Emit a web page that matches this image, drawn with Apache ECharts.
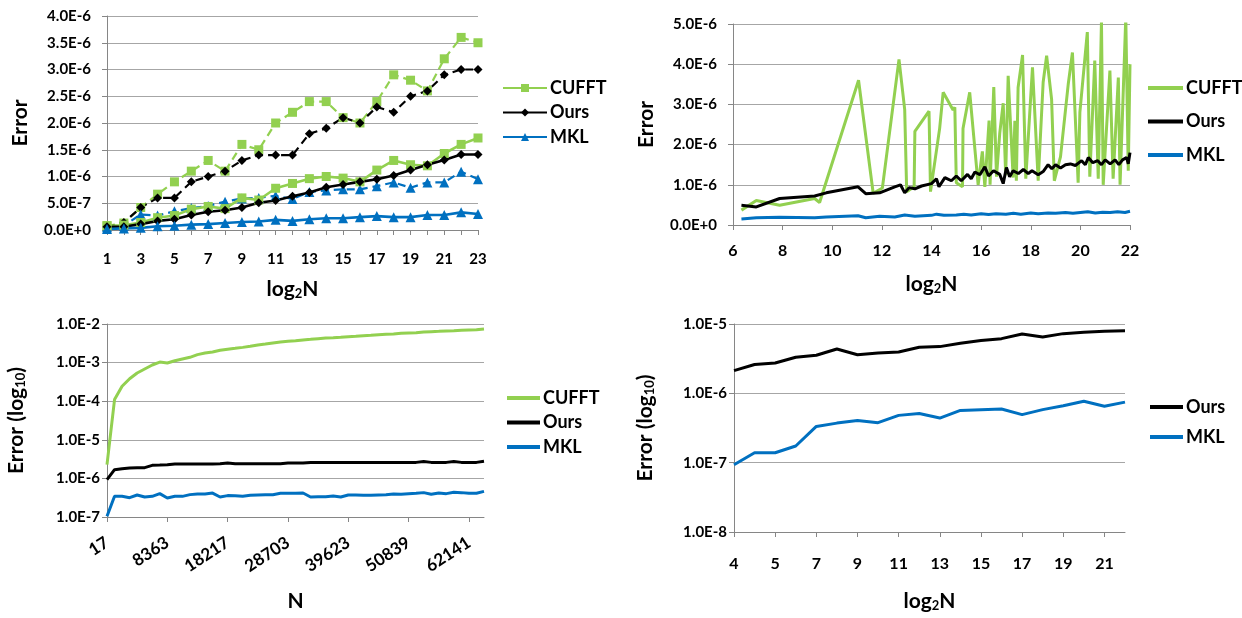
<!DOCTYPE html>
<html>
<head>
<meta charset="utf-8">
<script src="https://cdn.jsdelivr.net/npm/echarts@6/dist/echarts.min.js"></script>
<style>
html, body { margin: 0; padding: 0; background: #fff; }
#main { width: 1242px; height: 618px; }
</style>
</head>
<body>
<div id="main"></div>
<script>
// ---- top-left: error vs log2N (values in units of 1E-6), dashed = max, solid = avg
var log2N1 = ['1','2','3','4','5','6','7','8','9','10','11','12','13','14','15','16','17','18','19','20','21','22','23'];
var cufftMax1 = [0.08,0.13,0.42,0.67,0.9,1.1,1.3,1.1,1.6,1.5,2.0,2.2,2.4,2.4,2.1,2.0,2.4,2.9,2.8,2.6,3.2,3.6,3.5];
var oursMax1  = [0.05,0.14,0.42,0.6,0.6,0.9,1.0,1.1,1.3,1.4,1.4,1.4,1.8,1.9,2.1,2.0,2.3,2.2,2.5,2.6,2.9,3.0,3.0];
var mklMax1   = [0.05,0.08,0.29,0.27,0.35,0.41,0.45,0.53,0.59,0.6,0.64,0.58,0.71,0.74,0.76,0.76,0.82,0.89,0.79,0.89,0.89,1.09,0.95];
var cufftAvg1 = [0.08,0.09,0.14,0.23,0.27,0.39,0.44,0.4,0.6,0.56,0.78,0.87,0.96,1.0,0.97,0.9,1.12,1.3,1.22,1.2,1.43,1.6,1.72];
var oursAvg1  = [0.06,0.06,0.11,0.17,0.2,0.28,0.34,0.37,0.42,0.51,0.55,0.63,0.7,0.8,0.85,0.9,0.95,1.02,1.12,1.22,1.31,1.41,1.41];
var mklAvg1   = [0.02,0.03,0.04,0.07,0.08,0.1,0.11,0.13,0.15,0.16,0.19,0.17,0.2,0.22,0.22,0.24,0.26,0.24,0.24,0.28,0.28,0.33,0.3];

// ---- top-right: error vs log2N (scatter lines, units of 1E-6)
var cufftX2 = [6.34,6.94,7.88,9.29,9.49,11.06,11.65,12.02,12.69,12.92,13.0,13.3,13.33,13.9,13.96,14.33,14.47,14.87,14.94,15.0,15.25,15.27,15.54,15.88,16.05,16.15,16.32,16.36,16.51,16.62,16.75,16.89,16.99,17.09,17.29,17.36,17.42,17.49,17.67,17.8,18.07,18.3,18.5,18.64,18.84,18.95,19.2,19.51,19.68,19.91,19.98,20.28,20.38,20.58,20.72,20.85,20.92,21.19,21.32,21.53,21.6,21.83,21.93,22.0];
var cufftY2 = [0.37,0.61,0.49,0.66,0.56,3.6,0.79,0.92,4.12,2.87,0.83,0.95,2.33,2.83,0.83,2.41,3.3,2.86,2.93,1.05,0.95,2.4,3.3,1.0,1.83,0.95,2.6,1.0,3.43,1.2,2.28,3.03,1.24,3.71,1.18,2.59,1.1,3.42,4.23,1.15,3.92,1.1,3.55,4.21,3.13,1.1,1.7,3.5,4.29,1.05,2.8,4.8,1.2,4.09,1.15,5.08,1.0,3.84,1.15,3.67,1.0,5.17,1.35,4.0];
var oursX2 = [6.34,6.94,7.88,9.29,9.76,11.04,11.35,11.91,12.52,12.75,12.92,13.1,13.33,13.6,14.0,14.2,14.3,14.54,14.8,15.0,15.2,15.45,15.6,15.75,15.95,16.15,16.3,16.5,16.75,16.89,17.02,17.15,17.29,17.5,17.7,17.9,18.05,18.3,18.5,18.7,18.85,19.0,19.2,19.4,19.6,19.8,20.05,20.2,20.32,20.5,20.7,20.85,21.0,21.2,21.4,21.55,21.7,21.86,21.93,22.0];
var oursY2 = [0.49,0.45,0.66,0.72,0.8,0.95,0.78,0.8,0.95,1.0,0.8,0.93,0.9,0.97,1.03,1.15,0.95,1.18,1.1,1.22,1.1,1.26,1.15,1.32,1.25,1.45,1.22,1.35,1.26,1.03,1.43,1.2,1.35,1.28,1.38,1.28,1.35,1.25,1.33,1.5,1.4,1.5,1.42,1.5,1.52,1.48,1.6,1.5,1.68,1.55,1.6,1.5,1.62,1.52,1.62,1.5,1.62,1.68,1.52,1.8];
var mklX2 = [6.34,6.94,7.88,9.29,9.76,11.04,11.35,11.91,12.52,12.92,13.33,14.0,14.2,14.5,15.0,15.3,15.6,16.0,16.3,16.6,17.0,17.3,17.6,18.0,18.3,18.7,19.0,19.4,19.7,20.0,20.3,20.6,20.9,21.2,21.5,21.8,22.0];
var mklY2 = [0.15,0.18,0.19,0.18,0.2,0.23,0.18,0.22,0.2,0.25,0.22,0.24,0.27,0.24,0.25,0.27,0.25,0.28,0.26,0.28,0.27,0.29,0.27,0.3,0.28,0.3,0.29,0.31,0.29,0.31,0.33,0.3,0.32,0.31,0.33,0.31,0.34];

// ---- bottom-left: error (log10) vs N, one tick label every 8 points
var nTicks = ['17','8363','18217','28703','39623','50839','62141'];
var nStep = 8;
var cufft3 = [2.27e-6,1.1e-4,2.43e-4,3.83e-4,5.37e-4,6.82e-4,8.67e-4,1.03e-3,9.77e-4,1.12e-3,1.24e-3,1.37e-3,1.61e-3,1.77e-3,1.88e-3,2.08e-3,2.21e-3,2.34e-3,2.48e-3,2.64e-3,2.86e-3,3.03e-3,3.23e-3,3.42e-3,3.56e-3,3.7e-3,3.85e-3,4.0e-3,4.17e-3,4.34e-3,4.42e-3,4.51e-3,4.7e-3,4.79e-3,4.99e-3,5.09e-3,5.3e-3,5.4e-3,5.5e-3,5.73e-3,5.85e-3,5.96e-3,6.21e-3,6.33e-3,6.45e-3,6.58e-3,6.7e-3,6.85e-3,6.98e-3,7.1e-3,7.42e-3];
var ours3 = [9.3e-7,1.68e-6,1.79e-6,1.85e-6,1.9e-6,1.9e-6,2.18e-6,2.22e-6,2.27e-6,2.36e-6,2.36e-6,2.36e-6,2.36e-6,2.36e-6,2.36e-6,2.4e-6,2.5e-6,2.41e-6,2.41e-6,2.41e-6,2.41e-6,2.41e-6,2.41e-6,2.41e-6,2.5e-6,2.5e-6,2.5e-6,2.6e-6,2.6e-6,2.6e-6,2.6e-6,2.6e-6,2.6e-6,2.6e-6,2.6e-6,2.6e-6,2.6e-6,2.6e-6,2.6e-6,2.6e-6,2.6e-6,2.6e-6,2.73e-6,2.6e-6,2.6e-6,2.6e-6,2.73e-6,2.6e-6,2.6e-6,2.6e-6,2.78e-6];
var mkl3 = [1.04e-7,3.43e-7,3.43e-7,3.17e-7,3.72e-7,3.3e-7,3.43e-7,4.03e-7,3.1e-7,3.43e-7,3.43e-7,3.8e-7,3.95e-7,3.95e-7,4.17e-7,3.3e-7,3.58e-7,3.57e-7,3.43e-7,3.64e-7,3.72e-7,3.79e-7,3.79e-7,4.11e-7,4.11e-7,4.11e-7,4.19e-7,3.3e-7,3.36e-7,3.36e-7,3.5e-7,3.3e-7,3.72e-7,3.72e-7,3.64e-7,3.64e-7,3.72e-7,3.79e-7,3.95e-7,3.87e-7,4.03e-7,4.11e-7,4.28e-7,3.87e-7,4.19e-7,4.03e-7,4.36e-7,4.28e-7,4.11e-7,4.11e-7,4.6e-7];

// ---- bottom-right: error (log10) vs log2N
var log2N4 = ['4','4.5','5','6','7','8','9','10','11','12','13','14','15','16','17','18','19','20','21','22'];
var ours4 = [2.13e-6,2.6e-6,2.74e-6,3.31e-6,3.54e-6,4.36e-6,3.61e-6,3.82e-6,3.95e-6,4.61e-6,4.72e-6,5.27e-6,5.8e-6,6.15e-6,7.18e-6,6.5e-6,7.26e-6,7.59e-6,7.84e-6,8.0e-6];
var mkl4 = [9.35e-8,1.39e-7,1.39e-7,1.74e-7,3.33e-7,3.72e-7,4.07e-7,3.77e-7,4.81e-7,5.13e-7,4.4e-7,5.67e-7,5.82e-7,5.93e-7,4.93e-7,5.82e-7,6.64e-7,7.68e-7,6.5e-7,7.47e-7];

var GREEN = '#92D050', BLACK = '#000000', BLUE = '#0070C0';
var FONT = 'Lato';
var GRID_LINE = '#a6a6a6', AXIS_LINE = '#868686';

function pairs(xs, ys) {
    return xs.map(function (x, i) { return [x, ys[i]]; });
}
function micro(v) {
    return (v * 1e-6).toExponential(1).toUpperCase();
}
function sci(v) {
    return v.toExponential(1).toUpperCase();
}
function nameStyle(size) {
    return {
        fontFamily: FONT, fontWeight: 'bold', fontSize: size, color: '#000',
        rich: {
            sub: { fontFamily: FONT, fontWeight: 'bold', fontSize: 13, color: '#000', padding: [9, 0, 0, 0] }
        }
    };
}
function labelStyle(size, margin) {
    return { fontFamily: FONT, fontWeight: 'bold', fontSize: size, color: '#000', margin: margin };
}
function yAxisBase(gridIndex, nameGap, labelMargin) {
    return {
        gridIndex: gridIndex,
        name: 'Error',
        nameLocation: 'middle',
        nameGap: nameGap,
        nameTextStyle: nameStyle(21),
        axisLine: { show: true, lineStyle: { color: AXIS_LINE, width: 1 } },
        axisTick: { show: true, length: 5, lineStyle: { color: AXIS_LINE } },
        splitLine: { show: true, lineStyle: { color: GRID_LINE, width: 1 } },
        axisLabel: labelStyle(15, labelMargin)
    };
}
// lines-only legends use a flat rect as the icon
function legendFor(top, left, gap, names, iconW, flat) {
    return {
        orient: 'vertical', left: left, top: top, itemGap: gap,
        itemWidth: iconW, itemHeight: flat ? 4 : 10,
        data: names.map(function (n) { return flat ? { name: n, icon: 'rect' } : { name: n }; }),
        formatter: function (n) { return n.split('#')[0]; },
        textStyle: { fontFamily: FONT, fontWeight: 'bold', fontSize: 18, color: '#000', padding: [0, 0, 0, -2] },
        selectedMode: false
    };
}
function markLine(name, xi, yi, data, color, symbol, size, dashed, width) {
    return {
        name: name, type: 'line', xAxisIndex: xi, yAxisIndex: yi, data: data,
        symbol: symbol, symbolSize: size, showSymbol: symbol !== 'none',
        itemStyle: { color: color },
        lineStyle: { color: color, width: width, type: dashed ? [8, 5] : 'solid' },
        animation: false
    };
}

var chart = echarts.init(document.getElementById('main'));
chart.setOption({
    backgroundColor: '#fff',
    animation: false,
    grid: [
        { left: 107, top: 16, width: 371, height: 214 },
        { left: 733, top: 24, width: 397, height: 201 },
        { left: 107, top: 324, width: 377, height: 193 },
        { left: 734, top: 324, width: 391, height: 208 }
    ],
    legend: [
        legendFor(74, 497, 6.5, ['CUFFT#1', 'Ours#1', 'MKL#1'], 44, false),
        legendFor(74, 1143, 15.5, ['CUFFT#2', 'Ours#2', 'MKL#2'], 35, true),
        legendFor(384, 502, 6.5, ['CUFFT#3', 'Ours#3', 'MKL#3'], 33, true),
        legendFor(393, 1145, 12, ['Ours#4', 'MKL#4'], 33, true)
    ],
    xAxis: [
        {
            gridIndex: 0, type: 'category', data: log2N1, boundaryGap: false,
            name: 'log{sub|2}N', nameLocation: 'middle', nameGap: 48, nameTextStyle: nameStyle(21),
            axisLine: { lineStyle: { color: AXIS_LINE } },
            axisTick: { interval: 0, length: 5, lineStyle: { color: AXIS_LINE } },
            axisLabel: Object.assign(labelStyle(15, 22), { interval: 1 })
        },
        {
            gridIndex: 1, type: 'value', min: 6, max: 22, interval: 2,
            name: 'log{sub|2}N', nameLocation: 'middle', nameGap: 48, nameTextStyle: nameStyle(21),
            splitLine: { show: false },
            axisLine: { lineStyle: { color: AXIS_LINE } },
            axisTick: { show: true, length: 5, lineStyle: { color: AXIS_LINE } },
            axisLabel: labelStyle(16, 18)
        },
        {
            gridIndex: 2, type: 'category', boundaryGap: false,
            data: cufft3.map(function (v, i) { return i % nStep === 0 ? nTicks[i / nStep] : ''; }),
            name: 'N', nameLocation: 'middle', nameGap: 74, nameTextStyle: nameStyle(21),
            axisLine: { lineStyle: { color: AXIS_LINE } },
            axisTick: { interval: nStep - 1, length: 5, lineStyle: { color: AXIS_LINE } },
            axisLabel: Object.assign(labelStyle(17, 24), { interval: nStep - 1, rotate: 33 })
        },
        {
            gridIndex: 3, type: 'category', data: log2N4, boundaryGap: false,
            name: 'log{sub|2}N', nameLocation: 'middle', nameGap: 58, nameTextStyle: nameStyle(21),
            axisLine: { lineStyle: { color: AXIS_LINE } },
            axisTick: { interval: 1, length: 5, lineStyle: { color: AXIS_LINE } },
            axisLabel: Object.assign(labelStyle(16, 24), { interval: 1 })
        }
    ],
    yAxis: [
        Object.assign(yAxisBase(0, 76, 16), { type: 'value', min: 0, max: 4, interval: 0.5,
            axisLabel: Object.assign(labelStyle(15, 16), { formatter: micro }) }),
        Object.assign(yAxisBase(1, 76, 16), { type: 'value', min: 0, max: 5, interval: 1,
            axisLabel: Object.assign(labelStyle(15, 16), { formatter: micro }) }),
        Object.assign(yAxisBase(2, 80, 7), { type: 'log', logBase: 10, min: 1e-7, max: 1e-2,
            name: 'Error (log{sub|10})',
            axisLabel: Object.assign(labelStyle(15, 7), { formatter: sci }) }),
        Object.assign(yAxisBase(3, 78, 7), { type: 'log', logBase: 10, min: 1e-8, max: 1e-5,
            name: 'Error (log{sub|10})',
            axisLabel: Object.assign(labelStyle(15, 7), { formatter: sci }) })
    ],
    series: [
        markLine('CUFFT max', 0, 0, cufftMax1, GREEN, 'rect', 9, true, 2.2),
        markLine('Ours max', 0, 0, oursMax1, BLACK, 'diamond', 9, true, 2.2),
        markLine('MKL max', 0, 0, mklMax1, BLUE, 'triangle', 10, true, 2.2),
        markLine('CUFFT#1', 0, 0, cufftAvg1, GREEN, 'rect', 9, false, 2.6),
        markLine('Ours#1', 0, 0, oursAvg1, BLACK, 'diamond', 9, false, 2.6),
        markLine('MKL#1', 0, 0, mklAvg1, BLUE, 'triangle', 10, false, 2.6),

        markLine('CUFFT#2', 1, 1, pairs(cufftX2, cufftY2), GREEN, 'none', 0, false, 3),
        markLine('Ours#2', 1, 1, pairs(oursX2, oursY2), BLACK, 'none', 0, false, 3),
        markLine('MKL#2', 1, 1, pairs(mklX2, mklY2), BLUE, 'none', 0, false, 3),

        markLine('CUFFT#3', 2, 2, cufft3, GREEN, 'none', 0, false, 3),
        markLine('Ours#3', 2, 2, ours3, BLACK, 'none', 0, false, 3),
        markLine('MKL#3', 2, 2, mkl3, BLUE, 'none', 0, false, 3),

        markLine('Ours#4', 3, 3, ours4, BLACK, 'none', 0, false, 3),
        markLine('MKL#4', 3, 3, mkl4, BLUE, 'none', 0, false, 3)
    ]
});
</script>
</body>
</html>
